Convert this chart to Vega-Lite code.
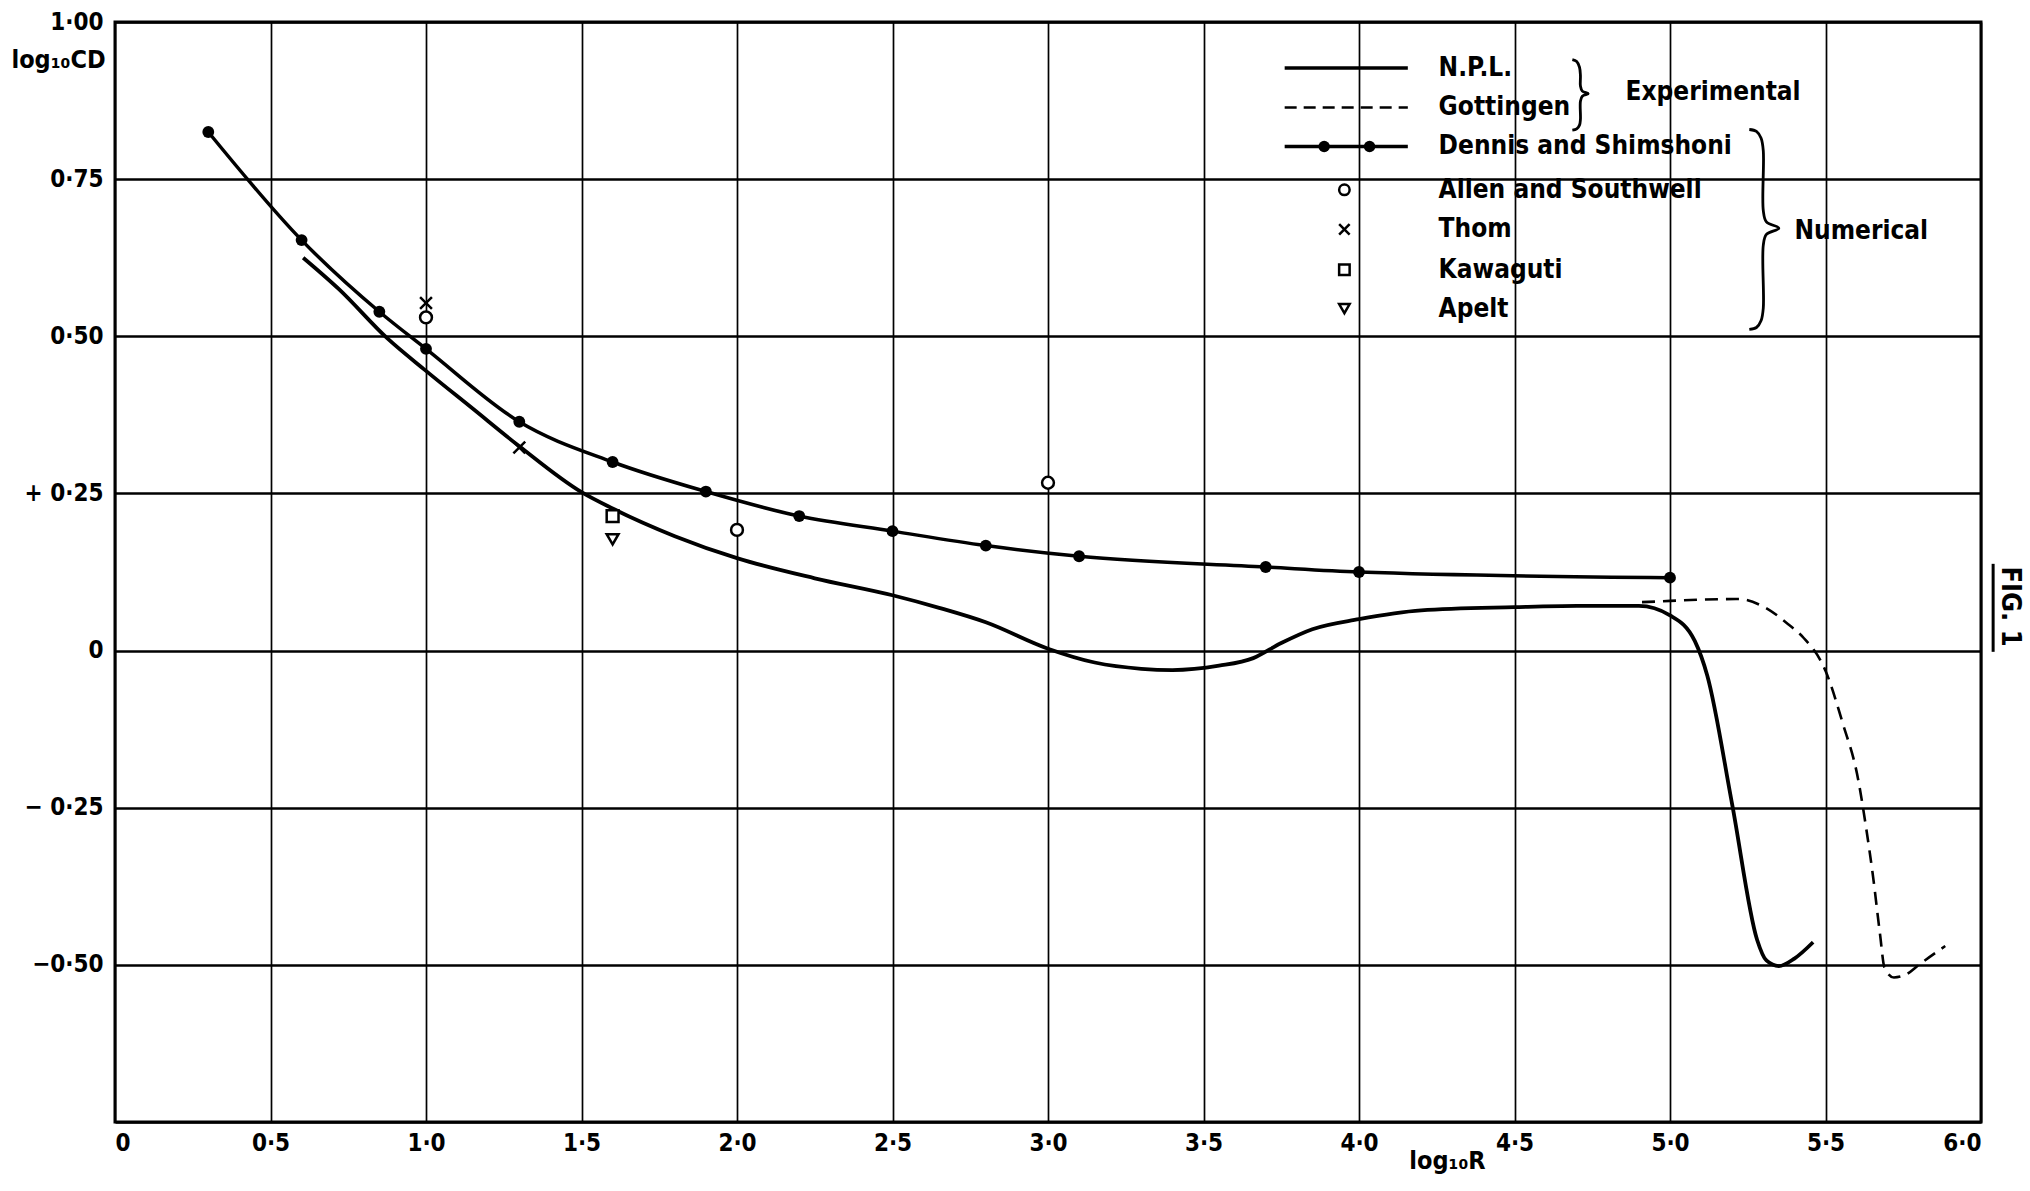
{
  "$schema": "https://vega.github.io/schema/vega-lite/v6.json",
  "width": 1866,
  "height": 1100,
  "autosize": {"type": "none"},
  "padding": {"left": 115, "top": 22, "right": 49, "bottom": 69},
  "background": "white",
  "config": {
    "font": "DejaVu Sans Condensed, DejaVu Sans, sans-serif",
    "view": {"stroke": "black", "strokeWidth": 3},
    "axis": {
      "domain": false,
      "ticks": false,
      "grid": true,
      "gridColor": "black",
      "gridOpacity": 1,
      "labelColor": "black",
      "labelFontWeight": "bold",
      "labelFontSize": 24,
      "titleColor": "black",
      "titleFontWeight": "bold"
    },
    "axisX": {"gridWidth": 1.7},
    "axisY": {"gridWidth": 2.6}
  },
  "datasets": {
    "main": [
      {"s": "N.P.L.", "x": 0.605, "y": 0.625},
      {"s": "N.P.L.", "x": 0.72, "y": 0.575},
      {"s": "N.P.L.", "x": 0.875, "y": 0.497},
      {"s": "N.P.L.", "x": 1.0, "y": 0.445},
      {"s": "N.P.L.", "x": 1.15, "y": 0.385},
      {"s": "N.P.L.", "x": 1.3, "y": 0.325},
      {"s": "N.P.L.", "x": 1.5, "y": 0.252},
      {"s": "N.P.L.", "x": 1.6, "y": 0.226},
      {"s": "N.P.L.", "x": 1.8, "y": 0.182},
      {"s": "N.P.L.", "x": 2.0, "y": 0.147},
      {"s": "N.P.L.", "x": 2.25, "y": 0.115},
      {"s": "N.P.L.", "x": 2.5, "y": 0.088},
      {"s": "N.P.L.", "x": 2.65, "y": 0.068},
      {"s": "N.P.L.", "x": 2.8, "y": 0.045},
      {"s": "N.P.L.", "x": 3.0, "y": 0.003},
      {"s": "N.P.L.", "x": 3.15, "y": -0.019},
      {"s": "N.P.L.", "x": 3.3, "y": -0.029},
      {"s": "N.P.L.", "x": 3.4, "y": -0.031},
      {"s": "N.P.L.", "x": 3.55, "y": -0.024},
      {"s": "N.P.L.", "x": 3.66, "y": -0.012},
      {"s": "N.P.L.", "x": 3.75, "y": 0.012},
      {"s": "N.P.L.", "x": 3.85, "y": 0.034},
      {"s": "N.P.L.", "x": 4.0, "y": 0.05},
      {"s": "N.P.L.", "x": 4.2, "y": 0.064},
      {"s": "N.P.L.", "x": 4.5, "y": 0.069},
      {"s": "N.P.L.", "x": 4.7, "y": 0.071},
      {"s": "N.P.L.", "x": 4.9, "y": 0.071},
      {"s": "N.P.L.", "x": 5.0, "y": 0.056},
      {"s": "N.P.L.", "x": 5.08, "y": 0.015},
      {"s": "N.P.L.", "x": 5.12, "y": -0.04},
      {"s": "N.P.L.", "x": 5.2, "y": -0.245},
      {"s": "N.P.L.", "x": 5.28, "y": -0.46},
      {"s": "N.P.L.", "x": 5.31, "y": -0.493},
      {"s": "N.P.L.", "x": 5.35, "y": -0.502},
      {"s": "N.P.L.", "x": 5.4, "y": -0.49},
      {"s": "N.P.L.", "x": 5.46, "y": -0.464},
      {"s": "Gottingen", "x": 4.91, "y": 0.077},
      {"s": "Gottingen", "x": 5.0, "y": 0.079},
      {"s": "Gottingen", "x": 5.1, "y": 0.081},
      {"s": "Gottingen", "x": 5.22, "y": 0.082},
      {"s": "Gottingen", "x": 5.3, "y": 0.07},
      {"s": "Gottingen", "x": 5.38, "y": 0.042},
      {"s": "Gottingen", "x": 5.43, "y": 0.02},
      {"s": "Gottingen", "x": 5.5, "y": -0.032},
      {"s": "Gottingen", "x": 5.555, "y": -0.115},
      {"s": "Gottingen", "x": 5.605, "y": -0.205},
      {"s": "Gottingen", "x": 5.63, "y": -0.28},
      {"s": "Gottingen", "x": 5.653, "y": -0.36},
      {"s": "Gottingen", "x": 5.675, "y": -0.45},
      {"s": "Gottingen", "x": 5.69, "y": -0.505},
      {"s": "Gottingen", "x": 5.72, "y": -0.52},
      {"s": "Gottingen", "x": 5.76, "y": -0.515},
      {"s": "Gottingen", "x": 5.8, "y": -0.5},
      {"s": "Gottingen", "x": 5.885, "y": -0.47},
      {"s": "Dennis and Shimshoni", "x": 0.3, "y": 0.825},
      {"s": "Dennis and Shimshoni", "x": 0.6, "y": 0.653},
      {"s": "Dennis and Shimshoni", "x": 0.85, "y": 0.539},
      {"s": "Dennis and Shimshoni", "x": 1.0, "y": 0.48},
      {"s": "Dennis and Shimshoni", "x": 1.3, "y": 0.364},
      {"s": "Dennis and Shimshoni", "x": 1.6, "y": 0.3},
      {"s": "Dennis and Shimshoni", "x": 1.9, "y": 0.253},
      {"s": "Dennis and Shimshoni", "x": 2.2, "y": 0.214},
      {"s": "Dennis and Shimshoni", "x": 2.5, "y": 0.19},
      {"s": "Dennis and Shimshoni", "x": 2.8, "y": 0.167},
      {"s": "Dennis and Shimshoni", "x": 3.1, "y": 0.15},
      {"s": "Dennis and Shimshoni", "x": 3.7, "y": 0.133},
      {"s": "Dennis and Shimshoni", "x": 4.0, "y": 0.125},
      {"s": "Dennis and Shimshoni", "x": 5.0, "y": 0.116},
      {"s": "Allen and Southwell", "x": 1.0, "y": 0.53},
      {"s": "Allen and Southwell", "x": 2.0, "y": 0.192},
      {"s": "Allen and Southwell", "x": 3.0, "y": 0.267},
      {"s": "Thom", "x": 1.0, "y": 0.553},
      {"s": "Thom", "x": 1.3, "y": 0.323},
      {"s": "Kawaguti", "x": 1.6, "y": 0.214},
      {"s": "Apelt", "x": 1.6, "y": 0.177}
    ],
    "legend": [
      {"label": "N.P.L.", "s": "N.P.L.", "kind": "solid", "y": 0.927},
      {"label": "Gottingen", "s": "Gottingen", "kind": "dash", "y": 0.864},
      {"label": "Dennis and Shimshoni", "s": "Dennis and Shimshoni", "kind": "ds", "y": 0.802},
      {"label": "Allen and Southwell", "s": "Allen and Southwell", "kind": "marker", "y": 0.733},
      {"label": "Thom", "s": "Thom", "kind": "marker", "y": 0.67},
      {"label": "Kawaguti", "s": "Kawaguti", "kind": "marker", "y": 0.606},
      {"label": "Apelt", "s": "Apelt", "kind": "marker", "y": 0.544}
    ],
    "groups": [
      {"t": "Experimental", "x": 4.857, "y": 0.889},
      {"t": "Numerical", "x": 5.4, "y": 0.667}
    ],
    "fig": [
      {"t": "FIG. 1", "x": 6.093, "y": 0.07}
    ],
    "figline": [
      {"x": 6.039, "y": 0.138, "y2": -0.002}
    ],
    "braces": [
      {"b": "exp", "i": 0, "x": 4.686, "y": 0.94},
      {"b": "exp", "i": 1, "x": 4.7, "y": 0.937},
      {"b": "exp", "i": 2, "x": 4.709, "y": 0.928},
      {"b": "exp", "i": 3, "x": 4.712, "y": 0.915},
      {"b": "exp", "i": 4, "x": 4.712, "y": 0.898},
      {"b": "exp", "i": 5, "x": 4.718, "y": 0.89},
      {"b": "exp", "i": 6, "x": 4.737, "y": 0.886},
      {"b": "exp", "i": 7, "x": 4.718, "y": 0.882},
      {"b": "exp", "i": 8, "x": 4.712, "y": 0.874},
      {"b": "exp", "i": 9, "x": 4.712, "y": 0.845},
      {"b": "exp", "i": 10, "x": 4.709, "y": 0.836},
      {"b": "exp", "i": 11, "x": 4.7, "y": 0.83},
      {"b": "exp", "i": 12, "x": 4.686, "y": 0.828},
      {"b": "num", "i": 0, "x": 5.255, "y": 0.829},
      {"b": "num", "i": 1, "x": 5.278, "y": 0.826},
      {"b": "num", "i": 2, "x": 5.293, "y": 0.815},
      {"b": "num", "i": 3, "x": 5.3, "y": 0.795},
      {"b": "num", "i": 4, "x": 5.3, "y": 0.7},
      {"b": "num", "i": 5, "x": 5.31, "y": 0.682},
      {"b": "num", "i": 6, "x": 5.35, "y": 0.672},
      {"b": "num", "i": 7, "x": 5.31, "y": 0.662},
      {"b": "num", "i": 8, "x": 5.3, "y": 0.645},
      {"b": "num", "i": 9, "x": 5.3, "y": 0.545},
      {"b": "num", "i": 10, "x": 5.293, "y": 0.525},
      {"b": "num", "i": 11, "x": 5.278, "y": 0.514},
      {"b": "num", "i": 12, "x": 5.255, "y": 0.511}
    ]
  },
  "layer": [
    {
      "mark": {"type": "rect", "fill": "white", "stroke": "black", "strokeWidth": 2.6},
      "encoding": {
        "x": {
          "datum": 3.5, "type": "quantitative",
          "scale": {"domain": [0, 6], "nice": false, "zero": false},
          "axis": {
            "values": [0, 0.5, 1, 1.5, 2, 2.5, 3, 3.5, 4, 4.5, 5, 5.5, 6],
            "labelExpr": "datum.value == 0 ? '0' : replace(format(datum.value, '.1f'), '.', '·')",
            "labelPadding": 9,
            "title": "log₁₀R",
            "titleFontSize": 25,
            "titleX": 1332,
            "titleY": 38,
            "titleAlign": "center",
            "titleBaseline": "middle"
          }
        },
        "x2": {"datum": 6},
        "y": {
          "datum": 1.0, "type": "quantitative",
          "scale": {"domain": [-0.75, 1], "nice": false, "zero": false},
          "axis": {
            "values": [-0.75, -0.5, -0.25, 0, 0.25, 0.5, 0.75, 1],
            "labelExpr": "datum.value == -0.75 ? '' : datum.value == 0 ? '0' : datum.value == 0.25 ? '+ 0·25' : datum.value == -0.25 ? '− 0·25' : datum.value < 0 ? '−' + replace(format(-datum.value, '.2f'), '.', '·') : replace(format(datum.value, '.2f'), '.', '·')",
            "labelPadding": 12,
            "title": "log₁₀CD",
            "titleFontSize": 25,
            "titleAngle": 0,
            "titleX": -57,
            "titleY": 37,
            "titleAlign": "center",
            "titleBaseline": "middle"
          }
        },
        "y2": {"datum": 0.5}
      }
    },
    {
      "data": {"name": "main"},
      "transform": [{"filter": "datum.s == 'N.P.L.'"}],
      "mark": {"type": "line", "color": "black", "strokeWidth": 3.8, "interpolate": "monotone"},
      "encoding": {
        "x": {"field": "x", "type": "quantitative", "scale": {"domain": [0, 6], "nice": false, "zero": false}},
        "y": {"field": "y", "type": "quantitative", "scale": {"domain": [-0.75, 1], "nice": false, "zero": false}}
      }
    },
    {
      "data": {"name": "main"},
      "transform": [{"filter": "datum.s == 'Gottingen'"}],
      "mark": {"type": "line", "color": "black", "strokeWidth": 2.6, "strokeDash": [13, 8], "interpolate": "monotone"},
      "encoding": {
        "x": {"field": "x", "type": "quantitative", "scale": {"domain": [0, 6], "nice": false, "zero": false}},
        "y": {"field": "y", "type": "quantitative", "scale": {"domain": [-0.75, 1], "nice": false, "zero": false}}
      }
    },
    {
      "data": {"name": "main"},
      "transform": [{"filter": "datum.s == 'Dennis and Shimshoni'"}],
      "mark": {"type": "line", "color": "black", "strokeWidth": 3.5, "interpolate": "monotone"},
      "encoding": {
        "x": {"field": "x", "type": "quantitative", "scale": {"domain": [0, 6], "nice": false, "zero": false}},
        "y": {"field": "y", "type": "quantitative", "scale": {"domain": [-0.75, 1], "nice": false, "zero": false}}
      }
    },
    {
      "data": {"name": "main"},
      "transform": [{"filter": "datum.s == 'Dennis and Shimshoni'"}],
      "mark": {"type": "point", "filled": true, "shape": "circle", "size": 140, "color": "black", "opacity": 1},
      "encoding": {
        "x": {"field": "x", "type": "quantitative", "scale": {"domain": [0, 6], "nice": false, "zero": false}},
        "y": {"field": "y", "type": "quantitative", "scale": {"domain": [-0.75, 1], "nice": false, "zero": false}}
      }
    },
    {
      "data": {"name": "main"},
      "transform": [{"filter": "indexof(['Allen and Southwell','Thom','Kawaguti','Apelt'], datum.s) >= 0"}],
      "mark": {"type": "point", "filled": true, "fill": "white", "stroke": "black", "strokeWidth": 2.5, "size": 140, "opacity": 1},
      "encoding": {
        "x": {"field": "x", "type": "quantitative", "scale": {"domain": [0, 6], "nice": false, "zero": false}},
        "y": {"field": "y", "type": "quantitative", "scale": {"domain": [-0.75, 1], "nice": false, "zero": false}},
        "shape": {
          "field": "s", "type": "nominal", "legend": null,
          "scale": {
            "domain": ["Allen and Southwell", "Thom", "Kawaguti", "Apelt"],
            "range": ["circle", "M-1,-1L1,1M-1,1L1,-1", "square", "triangle-down"]
          }
        }
      }
    },
    {
      "data": {"name": "legend"},
      "transform": [{"filter": "datum.kind == 'solid' || datum.kind == 'ds'"}],
      "mark": {"type": "rule", "color": "black", "strokeWidth": 3.5},
      "encoding": {
        "x": {"datum": 3.761, "type": "quantitative", "scale": {"domain": [0, 6], "nice": false, "zero": false}},
        "x2": {"datum": 4.157},
        "y": {"field": "y", "type": "quantitative", "scale": {"domain": [-0.75, 1], "nice": false, "zero": false}}
      }
    },
    {
      "data": {"name": "legend"},
      "transform": [{"filter": "datum.kind == 'dash'"}],
      "mark": {"type": "rule", "color": "black", "strokeWidth": 2.6, "strokeDash": [12, 7]},
      "encoding": {
        "x": {"datum": 3.761, "type": "quantitative", "scale": {"domain": [0, 6], "nice": false, "zero": false}},
        "x2": {"datum": 4.157},
        "y": {"field": "y", "type": "quantitative", "scale": {"domain": [-0.75, 1], "nice": false, "zero": false}}
      }
    },
    {
      "data": {"name": "legend"},
      "transform": [{"filter": "datum.kind == 'ds'"}],
      "mark": {"type": "point", "filled": true, "shape": "circle", "size": 130, "color": "black", "opacity": 1},
      "encoding": {
        "x": {"datum": 3.888, "type": "quantitative", "scale": {"domain": [0, 6], "nice": false, "zero": false}},
        "y": {"field": "y", "type": "quantitative", "scale": {"domain": [-0.75, 1], "nice": false, "zero": false}}
      }
    },
    {
      "data": {"name": "legend"},
      "transform": [{"filter": "datum.kind == 'ds'"}],
      "mark": {"type": "point", "filled": true, "shape": "circle", "size": 130, "color": "black", "opacity": 1},
      "encoding": {
        "x": {"datum": 4.034, "type": "quantitative", "scale": {"domain": [0, 6], "nice": false, "zero": false}},
        "y": {"field": "y", "type": "quantitative", "scale": {"domain": [-0.75, 1], "nice": false, "zero": false}}
      }
    },
    {
      "data": {"name": "legend"},
      "transform": [{"filter": "datum.kind == 'marker'"}],
      "mark": {"type": "point", "filled": true, "fill": "white", "stroke": "black", "strokeWidth": 2.5, "size": 110, "opacity": 1},
      "encoding": {
        "x": {"datum": 3.953, "type": "quantitative", "scale": {"domain": [0, 6], "nice": false, "zero": false}},
        "y": {"field": "y", "type": "quantitative", "scale": {"domain": [-0.75, 1], "nice": false, "zero": false}},
        "shape": {
          "field": "s", "type": "nominal", "legend": null,
          "scale": {
            "domain": ["Allen and Southwell", "Thom", "Kawaguti", "Apelt"],
            "range": ["circle", "M-1,-1L1,1M-1,1L1,-1", "square", "triangle-down"]
          }
        }
      }
    },
    {
      "data": {"name": "legend"},
      "mark": {"type": "text", "align": "left", "baseline": "middle", "fontSize": 26, "fontWeight": "bold", "color": "black"},
      "encoding": {
        "x": {"datum": 4.256, "type": "quantitative", "scale": {"domain": [0, 6], "nice": false, "zero": false}},
        "y": {"field": "y", "type": "quantitative", "scale": {"domain": [-0.75, 1], "nice": false, "zero": false}},
        "text": {"field": "label"}
      }
    },
    {
      "data": {"name": "groups"},
      "mark": {"type": "text", "align": "left", "baseline": "middle", "fontSize": 26, "fontWeight": "bold", "color": "black"},
      "encoding": {
        "x": {"field": "x", "type": "quantitative", "scale": {"domain": [0, 6], "nice": false, "zero": false}},
        "y": {"field": "y", "type": "quantitative", "scale": {"domain": [-0.75, 1], "nice": false, "zero": false}},
        "text": {"field": "t"}
      }
    },
    {
      "data": {"name": "braces"},
      "mark": {"type": "line", "color": "black", "strokeWidth": 2.8, "interpolate": "catmull-rom"},
      "encoding": {
        "x": {"field": "x", "type": "quantitative", "scale": {"domain": [0, 6], "nice": false, "zero": false}},
        "y": {"field": "y", "type": "quantitative", "scale": {"domain": [-0.75, 1], "nice": false, "zero": false}},
        "detail": {"field": "b"},
        "order": {"field": "i", "type": "quantitative"}
      }
    },
    {
      "data": {"name": "fig"},
      "mark": {"type": "text", "angle": 90, "fontSize": 27, "fontWeight": "bold", "align": "center", "baseline": "middle", "color": "black", "clip": false},
      "encoding": {
        "x": {"field": "x", "type": "quantitative", "scale": {"domain": [0, 6], "nice": false, "zero": false}},
        "y": {"field": "y", "type": "quantitative", "scale": {"domain": [-0.75, 1], "nice": false, "zero": false}},
        "text": {"field": "t"}
      }
    },
    {
      "data": {"name": "figline"},
      "mark": {"type": "rule", "color": "black", "strokeWidth": 3, "clip": false},
      "encoding": {
        "x": {"field": "x", "type": "quantitative", "scale": {"domain": [0, 6], "nice": false, "zero": false}},
        "y": {"field": "y", "type": "quantitative", "scale": {"domain": [-0.75, 1], "nice": false, "zero": false}},
        "y2": {"field": "y2"}
      }
    }
  ]
}
